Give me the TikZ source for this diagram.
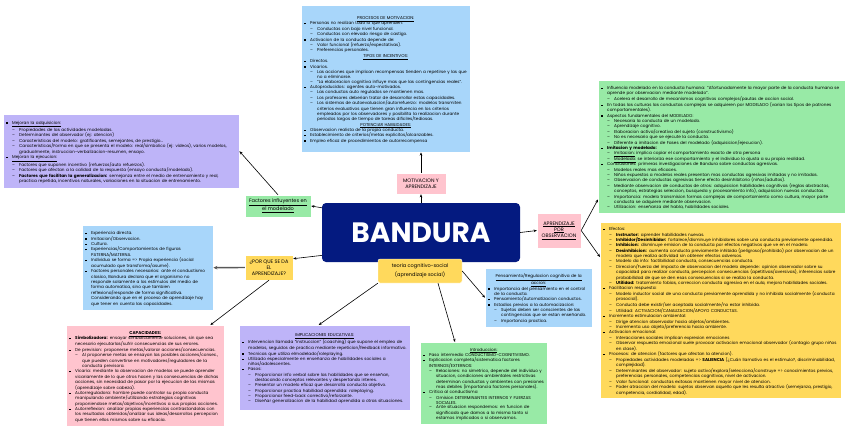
\documentclass[tikz,border=0pt]{standalone}
\usepackage{fontspec}
\setmainfont{Poppins}
\usepackage{tikz}
\usetikzlibrary{arrows.meta, positioning}

\definecolor{boxblue}{RGB}{168,214,250}
\definecolor{boxlila}{RGB}{190,180,248}
\definecolor{boxgreen}{RGB}{152,234,166}
\definecolor{boxyellow}{RGB}{255,217,92}
\definecolor{boxpink}{RGB}{255,196,206}
\definecolor{bandnavy}{RGB}{4,26,128}

% vinetas de las listas
\newcommand{\bitem}[1]{\par\noindent\makebox[6pt][l]{\rule[0.5pt]{1.3pt}{1.3pt}}%
  \parbox[t]{\dimexpr\hsize-6pt\relax}{\raggedright #1}\par}
\newcommand{\sitem}[1]{\par\noindent\hspace*{6pt}\makebox[7pt][l]{--}%
  \parbox[t]{\dimexpr\hsize-13pt\relax}{\raggedright #1}\par}
\newcommand{\boxtitle}[1]{\par{\centering\underline{#1}\par}}
\newcommand{\nohyph}{\hyphenpenalty=10000\relax\exhyphenpenalty=10000\relax}

\tikzset{
  infobox/.style={
    rectangle,
    fill=#1,
    draw=white,
    line width=0.4pt,
    inner sep=3pt,
    align=left,
    anchor=north west,
    font=\fontsize{4.2}{5.4}\selectfont,
    execute at begin node=\nohyph
  },
  labelbox/.style={
    rectangle,
    fill=#1,
    draw=white,
    line width=0.4pt,
    inner sep=1pt,
    align=center,
    font=\fontsize{5}{6.2}\selectfont
  },
  centerbox/.style={
    rectangle,
    rounded corners=4pt,
    fill=bandnavy,
    text=white,
    minimum width=198pt,
    minimum height=59pt,
    font=\fontsize{28}{30}\selectfont\bfseries
  },
  link/.style={
    -{Stealth[length=3.2pt, width=2.6pt]},
    line width=0.6pt,
    color=black
  },
  thick link/.style={
    -{Stealth[length=4pt, width=3.6pt]},
    line width=1.4pt,
    color=black!65
  }
}

\begin{document}
\begin{tikzpicture}[x=1pt, y=-1pt, >=Stealth]
  % marco de la imagen (848 x 432)
  \useasboundingbox (0,0) rectangle (848,432);

  % nodo central y etiquetas
  \node[centerbox] (band) at (421,232.5) {BANDURA};
  \node[labelbox=boxyellow, rounded corners=2pt, minimum width=84pt, minimum height=24pt] (teoria) at (420,271)
    {teoria cognitivo-social\\[3pt](aprendizaje social)};
  \node[labelbox=boxpink, minimum width=50pt, minimum height=21pt] (motiv) at (421,183.5)
    {MOTIVACION Y\\APRENDIZAJE};
  \node[labelbox=boxgreen, minimum width=66pt, minimum height=22pt] (factores) at (278,206)
    {\underline{Factores influyentes en}\\\underline{el modelado}};
  \node[labelbox=boxpink, minimum width=44pt, minimum height=35pt] (obs) at (559,230.5)
    {\underline{APRENDIZAJE}\\\underline{POR}\\\underline{OBSERVACION}};
  \node[labelbox=boxyellow, minimum width=48pt, minimum height=25pt] (porque) at (269,267.5)
    {¿POR QUE SE DA\\EL\\APRENDIZAJE?};

  % procesos de motivacion
  \node[infobox=boxblue, text width=163pt, minimum height=147pt] (procmot) at (301,5) {%
    \boxtitle{PROCESOS DE MOTIVACION:}
    \bitem{Personas no realizan todo lo que aprenden:}
    \sitem{Conductas con bajo nivel funcional.}
    \sitem{Conductas con elevado riesgo de castigo.}
    \bitem{Activacion de la conducta depende de:}
    \sitem{Valor funcional (refuerzo/expectativas).}
    \sitem{Preferencias personales.}
    \boxtitle{TIPOS DE INCENTIVOS:}
    \bitem{Directos.}
    \bitem{Vicarios.}
    \sitem{Las acciones que implican recompensas tienden a repetirse y las que no a eliminarse.}
    \sitem{"La elaboracion cognitiva influye mas que las contingencias reales".}
    \bitem{Autoproducidos: agentes auto-motivados.}
    \sitem{Las conductas auto regulados se mantienen mas.}
    \sitem{Los profesores deberian tratar de desarrollar estas capacidades.}
    \sitem{Los sistemas de autoevaluacion/autorrefuerzo: modelos transmiten criterios evaluativos que tienen gran influencia en los criterios empleados por los observadores y posibilita la realizacion durante periodos largos de tiempo de tareas dificiles/tediosas.}
    \boxtitle{POTENCIAR HABILIDADES:}
    \bitem{Observacion realista de la propia conducta.}
    \bitem{Establecimiento de criterios/metas explicitos/alcanzables.}
    \bitem{Empleo eficaz de procedimientos de autorrecompensa}};

  % factores del modelado
  \node[infobox=boxlila, text width=230pt, minimum height=74pt] (adqui) at (3,114) {%
    \bitem{\underline{Mejoran la adquisicion:}}
    \sitem{Propiedades de las actividades modeladas.}
    \sitem{Determinantes del observador (ej: atencion)}
    \sitem{Caracteristicas del modelo: gratificantes, semejantes, de prestigio...}
    \sitem{Caracteristicas/Forma en que se presenta el modelo: real/simbolico (ej: videos), varios modelos, gradualmente, instruccion-verbalizacion-resumen, ensayo.}
    \bitem{\underline{Mejoran la ejecucion:}}
    \sitem{Factores que suponen incentivo (refuerzos/auto refuerzos).}
    \sitem{Factores que afectan a la calidad de la respuesta (ensayo conducta/modelado).}
    \sitem{\textbf{Factores que facilitan la generalizacion:} semejanza entre el medio de entrenamiento y real, practica repetida, incentivos naturales, variaciones en la situacion de entrenamiento.}};

  % aprendizaje por observacion
  \node[infobox=boxgreen, text width=241pt, minimum height=133pt] (modelado) at (598,80) {%
    \bitem{Influencia modelado en la conducta humana: "Afortunadamente la mayor parte de la conducta humana se aprende por observacion mediante modelado".}
    \sitem{Acelera el desarrollo de mecanismos cognitivos complejos/pautas de accion social.}
    \bitem{En todas las culturas las conductas complejas se adquieren por MODELADO (varian los tipos de patrones comportamentales).}
    \bitem{Aspectos fundamentales del MODELADO:}
    \sitem{Necesaria la conducta de un modelado.}
    \sitem{Aprendizaje cognitivo.}
    \sitem{Elaboracion activa/creativa del sujeto (constructivismo)}
    \sitem{No es necesario que se ejecute la conducta.}
    \sitem{Diferente a imitacion de Fases del modelado (adquisicion/ejecucion).}
    \bitem{\textbf{Imitacion y modelado:}}
    \sitem{\underline{Imitacion:} implica copiar el comportamiento exacto de otra persona}
    \sitem{\underline{Modelado:} se interioriza ese comportamiento y el individuo lo ajusta a su propia realidad.}
    \bitem{Conclusiones: primeras investigaciones de Bandura sobre conductas agresivas.}
    \sitem{Modelos reales mas eficaces.}
    \sitem{Niños expuestos a modelos reales presentan mas conductas agresivas imitadas y no imitadas.}
    \sitem{Observacion de conductas agresivas tiene efecto desinhibitorio (niños/adultos).}
    \sitem{Mediante observacion de conductas de otros: adquisicion habilidades cognitivas (reglas abstractas, conceptos, estrategias seleccion, busqueda y procesamiento info), adquisicion nuevas conductas.}
    \sitem{Importancia: modelo transmision formas complejas de comportamiento como cultura, mayor parte conducta se adquiere mediante observacion.}
    \sitem{Utilizacion: enseñanza del habla, habilidades sociales.}};

  % efectos
  \node[infobox=boxyellow, text width=235pt, minimum height=174pt] (efectos) at (600,222) {%
    \bitem{Efectos:}
    \sitem{\textbf{Instructor:} aprender habilidades nuevas.}
    \sitem{\textbf{Inhibidor/Desinhibidor:} fortalece/disminuye inhibidores sobre una conducta previamente aprendida.}
    \sitem{\textbf{Inhibicion:} disminuye emision de la conducta por efectos negativos que ve en el modelo.}
    \sitem{\textbf{Desinhibicion:} aumenta conducta previamente inhibida (peligroso/prohibido) por observacion de un modelo que realiza actividad sin obtener efectos adversos.}
    \sitem{Modelo da info: factibilidad conducta, consecuencias conducta.}
    \sitem{Direccion/Fuerza del impacto de observacion del modelo depende: opinion observador sobre su capacidad para realizar conducta, percepcion consecuencias (apetitivas/aversivas), inferencias sobre probabilidad de que se den esas consecuencias si se realiza la conducta.}
    \sitem{\textbf{Utilidad:} tratamiento fobias, correccion conducta agresiva en el aula, mejora habilidades sociales.}
    \bitem{Facilitacion respuesta:}
    \sitem{Modelo inductor social de una conducta previamente aprendida y no inhibida socialmente (conducta prosocial).}
    \sitem{Conducta debe existir/ser aceptada socialmente/no estar inhibida.}
    \sitem{Utilidad: ACTIVACION/CANALIZACION/APOYO CONDUCTAS.}
    \bitem{Incremento estimulacion ambiental:}
    \sitem{Dirige atencion observador hacia objetos/ambientes.}
    \sitem{Incrementa uso objeto/preferencia hacia ambiente.}
    \bitem{Activacion emocional:}
    \sitem{Interacciones sociales implican expresion emociones}
    \sitem{Observar respuesta emocional suele provocar activacion emocional observador (contagio grupo niños en clase).}
    \bitem{Procesos: de atencion (factores que afectan la atencion).}
    \sitem{Propiedades actividades modeladas => \textbf{SALIENCIA} (¿Cuán llamativo es el estimulo?, discriminabilidad, complejidad).}
    \sitem{Determinantes del observador: sujeto activo/explora/selecciona/construye => conocimientos previos, preferencias personales, competencias cognitivas, nivel de activacion.}
    \sitem{Valor funcional: conductas exitosas mantienen mayor nivel de atencion.}
    \sitem{Poder atraccion del modelo: sujetos observan aquello que les resulta atractivo (semejanza, prestigio, competencia, cordialidad, edad).}};

  % por que se da el aprendizaje
  \node[infobox=boxblue, text width=125pt, minimum height=85pt] (causas) at (82,225) {%
    \bitem{Experiencia directa.}
    \bitem{Imitacion/Observacion.}
    \bitem{Cultura.}
    \bitem{Experiencias/Comportamientos de figuras PATERNA/MATERNA.}
    \bitem{Individuo se forma => Propia experiencia (social acumulado que transforma/asume).}
    \bitem{Factores personales necesarios: ante el conductismo clasico, Bandura declara que el organismo no responde solamente a los estimulos del medio de forma automatica, sino que tambien reflexiona/responde de forma significativa. Considerando que en el proceso de aprendizaje hay que tener en cuenta las capacidades.}};

  \node[infobox=boxpink, text width=152pt, minimum height=101pt] (capac) at (66,325) {%
    \boxtitle{\textbf{CAPACIDADES:}}
    \bitem{\textbf{Simbolizadora:} ensayar simbolicamente soluciones, sin que sea necesario ejecutarlas/sufrir consecuencias de sus errores.}
    \bitem{De prevision: proponerse metas/valorar acciones/consecuencias.}
    \sitem{Al proponerse metas se ensayan las posibles acciones/consec., que pueden convertirse en motivadores/reguladores de la conducta previsora.}
    \bitem{Vicaria: mediante la observacion de modelos se puede aprender vicariamente de lo que otros hacen y las consecuencias de dichas acciones, sin necesidad de pasar por la ejecucion de las mismas (aprendizaje sobre cabeza).}
    \bitem{Autorreguladora: hombre puede controlar su propia conducta manipulando ambiente/utilizando estrategias cognitivas proponiendose metas/objetivos/incentivos a sus propias acciones.}
    \bitem{Autorreflexion: analizar propias experiencias contrastandolas con los resultados obtenidos/analizar sus ideas/desarrollos percepcion que tienen ellos mismos sobre su eficacia.}};

  % teoria cognitivo-social
  \node[infobox=boxlila, text width=165pt, minimum height=85pt] (implic) at (239,325) {%
    \boxtitle{IMPLICACIONES EDUCATIVAS:}
    \bitem{Intervencion llamada "instruccion" (coaching) que supone el empleo de modelos, seguidos de practica mediante repeticion/feedback informativo.}
    \bitem{Tecnicas que utiliza elmodelado/roleplaying.}
    \bitem{Utilizado especialmente en enseñanza de habilidades sociales a niños/adolescentes.}
    \bitem{Pasos:}
    \sitem{Proporcionar info verbal sobre las habilidades que se enseñan, destacando conceptos relevantes y despertando interes.}
    \sitem{Presentar un modelo eficaz que desarrolla conducta objetivo.}
    \sitem{Proporcionar practica habilidad aprendida: roleplaying.}
    \sitem{Proporcionar feed-back correctivo/reforzante.}
    \sitem{Diseñar generalizacion de la habilidad aprendida a otras situaciones.}};

  \node[infobox=boxgreen, text width=121pt, minimum height=82pt] (intro) at (420,342) {%
    \boxtitle{Introduccion:}
    \bitem{Paso intermedio CONDUCTISMO-COGNITIVISMO.}
    \bitem{Explicacion completa/sistematica factores INTERNOS/EXTERNOS:}
    \sitem{Relaciones: no simetrico, depende del individuo y situacion, condiciones ambientales restrictivas determinan conductas y ambientes con presiones mas debiles (importancia factores personales).}
    \bitem{Critica al conductismo:}
    \sitem{Omision DETERMINANTES INTERNOS Y FUERZAS SOCIALES.}
    \sitem{Ante situacion respondemos: en funcion de significado que damos a la misma tanto si estamos implicados o si observamos.}};

  \node[infobox=boxblue, text width=101pt, minimum height=59pt] (pensa) at (485,268) {%
    \boxtitle{Pensamiento/Regulacion cognitiva de la}
    \boxtitle{accion:}
    \bitem{Importancia del pensamiento en el control de la conducta.}
    \bitem{Pensamiento/Automatizacion conductos.}
    \bitem{Estadios previos a la automacizacion:}
    \sitem{Sujetos deben ser conscientes de las contingencias que se estan enseñando.}
    \sitem{Importancia practica.}};

  % conectores
  \draw[link] (band.north) -- (motiv.south);
  \draw[link] (motiv.north) -- (motiv.north |- procmot.south);
  \draw[link] (band.166) -- (factores.east);
  \draw[link] (factores.north) -- (adqui.east);
  \draw[link] (band.east) -- (obs.west);
  \draw[link] (obs.east) -- ([yshift=14pt]modelado.south west);
  \draw[link] (obs.east) -- ([yshift=-35pt]efectos.north west);
  \draw[link] (band.193) -- (porque.20);
  \draw[thick link] (porque.west) -- (causas.east);
  \draw[link] (porque.south) -- ([xshift=-14pt]capac.north east);
  \draw[link] (teoria.south west) -- ([xshift=-6pt]implic.north);
  \draw[link] ([xshift=18pt]teoria.south) -- ([xshift=35pt]intro.north west);
  \draw[link] (teoria.east) -- (pensa.west);
\end{tikzpicture}
\end{document}
